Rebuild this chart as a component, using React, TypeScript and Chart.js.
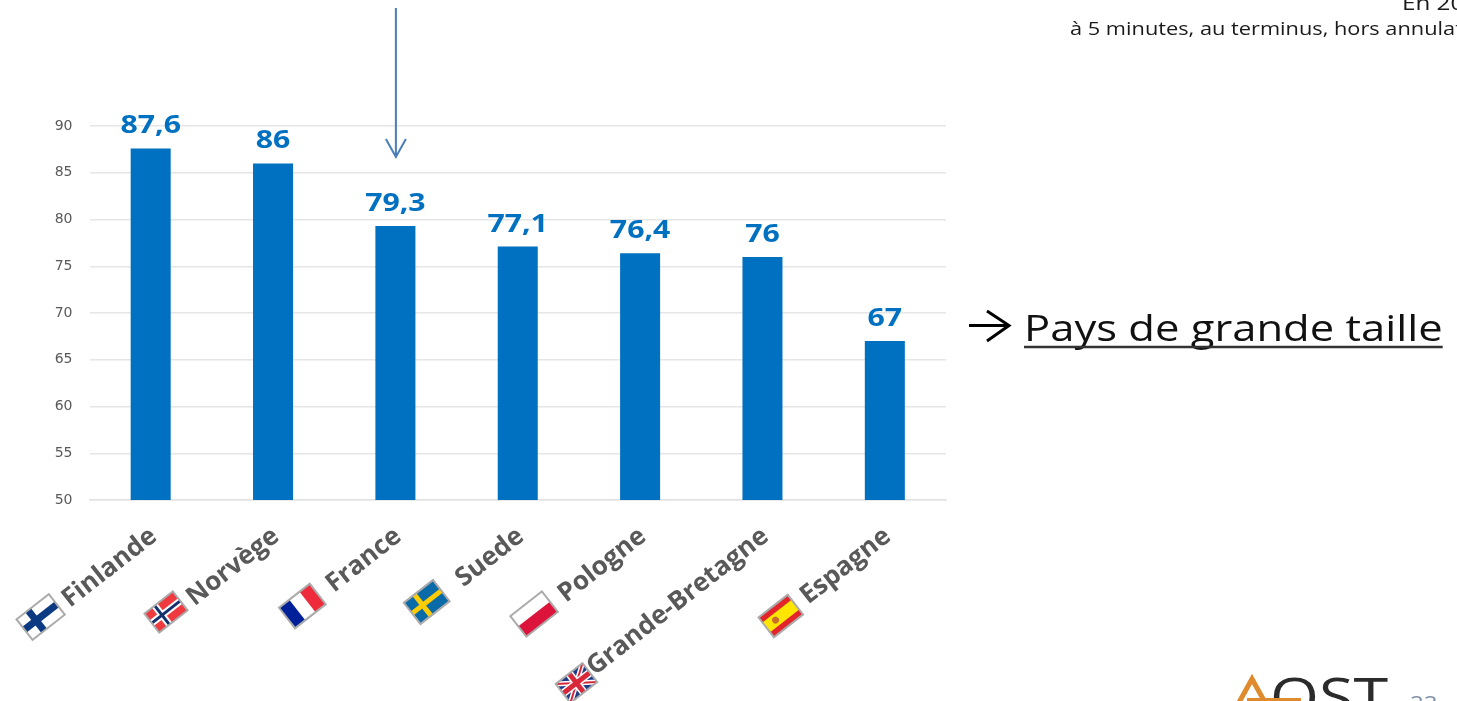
import React, { useEffect, useRef } from "react";
import { Chart, registerables } from "chart.js";

Chart.register(...registerables);

const countries = ["Finlande", "Norvège", "France", "Suede", "Pologne", "Grande-Bretagne", "Espagne"];
const values = [87.6, 86, 79.3, 77.1, 76.4, 76, 67];
const valueLabels = ["87,6", "86", "79,3", "77,1", "76,4", "76", "67"];
const flagCodes = ["fi", "no", "fr", "se", "pl", "gb", "es"];
const sideNote = "Pays de grande taille";
const headerShort = "En 2013";
const headerLong = "à 5 minutes, au terminus, hors annulations";
const logoText = "QST";
const pageNumber = "22";

const FONT = '"Open Sans", "Noto Sans", sans-serif';
const BLUE = "#0070C0";
const GREY = "#595959";
const STRETCH = 1.21;

// decoration geometry, relative to the category centre / axis line
const flagGeom: Record<string, { dx: number; dy: number; w: number; h: number }> = {
  fi: { dx: -110, dy: 117, w: 41, h: 26 },
  no: { dx: -107, dy: 112, w: 36, h: 24 },
  fr: { dx: -93, dy: 106, w: 39, h: 26 },
  se: { dx: -91, dy: 102, w: 37, h: 27 },
  pl: { dx: -106, dy: 114, w: 40, h: 26 },
  gb: { dx: -186, dy: 183, w: 34, h: 24 },
  es: { dx: -104, dy: 116, w: 37, h: 25 },
};

function stretchedText(
  ctx: CanvasRenderingContext2D,
  text: string,
  x: number,
  y: number,
  align: CanvasTextAlign = "left",
) {
  ctx.save();
  ctx.translate(x, y);
  ctx.scale(STRETCH, 1);
  ctx.textAlign = align;
  ctx.textBaseline = "alphabetic";
  ctx.fillText(text, 0, 0);
  ctx.restore();
}

function paintFlag(ctx: CanvasRenderingContext2D, code: string, w: number, h: number) {
  const l = -w / 2, t = -h / 2;
  const rect = (c: string, x: number, y: number, rw: number, rh: number) => {
    ctx.fillStyle = c;
    ctx.fillRect(x, y, rw, rh);
  };
  const cross = (c: string, thick: number) => {
    rect(c, l + w * 0.36 - thick / 2, t, thick, h);
    rect(c, l, -thick / 2, w, thick);
  };
  if (code === "fi") {
    rect("#ffffff", l, t, w, h);
    cross("#0B3A82", 7);
  } else if (code === "no") {
    rect("#EF3B3F", l, t, w, h);
    cross("#ffffff", 7);
    cross("#13306F", 3);
  } else if (code === "fr") {
    rect("#ffffff", l, t, w, h);
    rect("#00209A", l, t, w / 3, h);
    rect("#EE2B3B", l + (2 * w) / 3, t, w / 3, h);
  } else if (code === "se") {
    rect("#0B6BA8", l, t, w, h);
    cross("#FFCC00", 5);
  } else if (code === "pl") {
    rect("#ffffff", l, t, w, h / 2);
    rect("#DC143C", l, 0, w, h / 2);
  } else if (code === "es") {
    rect("#E3242B", l, t, w, h);
    rect("#FFE600", l, t + h / 4, w, h / 2);
    ctx.fillStyle = "#C8702A";
    ctx.beginPath();
    ctx.arc(l + w * 0.32, 0, 3.5, 0, Math.PI * 2);
    ctx.fill();
  } else if (code === "gb") {
    rect("#1F3C88", l, t, w, h);
    ctx.strokeStyle = "#ffffff";
    ctx.lineWidth = 5;
    ctx.beginPath();
    ctx.moveTo(l, t); ctx.lineTo(-l, -t);
    ctx.moveTo(l, -t); ctx.lineTo(-l, t);
    ctx.stroke();
    ctx.strokeStyle = "#D8283A";
    ctx.lineWidth = 2;
    ctx.stroke();
    rect("#ffffff", l, -4, w, 8);
    rect("#ffffff", -4, t, 8, h);
    rect("#D8283A", l, -2.5, w, 5);
    rect("#D8283A", -2.5, t, 5, h);
  }
  ctx.strokeStyle = "#ABABAB";
  ctx.lineWidth = 2;
  ctx.strokeRect(l, t, w, h);
}

const decorations = {
  id: "decorations",
  afterDraw(chart: any) {
    const ctx: CanvasRenderingContext2D = chart.ctx;
    const xs = chart.scales.x;
    const axisY = chart.scales.y.getPixelForValue(50);
    const meta = chart.getDatasetMeta(0);

    ctx.save();
    // value labels
    ctx.fillStyle = BLUE;
    ctx.font = `700 25px ${FONT}`;
    meta.data.forEach((bar: any, i: number) => {
      stretchedText(ctx, valueLabels[i], bar.x, bar.y - 15, "center");
    });

    // flags
    flagCodes.forEach((code, i) => {
      const g = flagGeom[code];
      ctx.save();
      ctx.translate(xs.getPixelForValue(i) + g.dx, axisY + g.dy);
      ctx.rotate((-38 * Math.PI) / 180);
      paintFlag(ctx, code, g.w, g.h);
      ctx.restore();
    });

    // vertical arrow to France
    const fx = xs.getPixelForValue(2) + 0.5;
    ctx.strokeStyle = "#4A7EBB";
    ctx.lineWidth = 2;
    ctx.beginPath();
    ctx.moveTo(fx, 8);
    ctx.lineTo(fx, 157);
    ctx.moveTo(fx - 10, 139);
    ctx.lineTo(fx, 157);
    ctx.lineTo(fx + 10, 139);
    ctx.stroke();

    // side note
    ctx.strokeStyle = "#000";
    ctx.lineWidth = 3;
    ctx.beginPath();
    ctx.moveTo(969, 325.5);
    ctx.lineTo(1009, 325.5);
    ctx.moveTo(987, 311);
    ctx.lineTo(1009, 325.5);
    ctx.lineTo(987, 341);
    ctx.stroke();
    ctx.fillStyle = "#111";
    ctx.font = `500 36px ${FONT}`;
    stretchedText(ctx, sideNote, 1024, 341);
    const w = ctx.measureText(sideNote).width * STRETCH;
    ctx.strokeStyle = "#333";
    ctx.lineWidth = 2.6;
    ctx.beginPath();
    ctx.moveTo(1024, 347);
    ctx.lineTo(1024 + w, 347);
    ctx.stroke();

    // clipped header
    ctx.fillStyle = "#1a1a1a";
    ctx.font = `500 20px ${FONT}`;
    stretchedText(ctx, headerShort, 1402, 10);
    ctx.font = `500 18px ${FONT}`;
    stretchedText(ctx, headerLong, 1070, 35);

    // logo and page number
    ctx.strokeStyle = "#E08A2E";
    ctx.lineWidth = 5;
    ctx.beginPath();
    ctx.moveTo(1237, 706);
    ctx.lineTo(1252, 679);
    ctx.lineTo(1267, 706);
    ctx.stroke();
    ctx.fillStyle = "#2b2b2b";
    ctx.font = `500 52px ${FONT}`;
    stretchedText(ctx, logoText, 1270, 715);
    ctx.fillStyle = "#E08A2E";
    ctx.fillRect(1247, 698, 54, 3);
    ctx.fillStyle = "#7F8FA6";
    ctx.font = `400 20px ${FONT}`;
    stretchedText(ctx, pageNumber, 1410, 710);
    ctx.restore();
  },
};

export default function App() {
  const ref = useRef<HTMLCanvasElement>(null);
  useEffect(() => {
    document.body.style.margin = "0";
    const chart = new Chart(ref.current!, {
      type: "bar",
      data: {
        labels: countries,
        datasets: [{ data: values, backgroundColor: BLUE, barPercentage: 0.327, categoryPercentage: 1 }],
      },
      options: {
        animation: false,
        responsive: false,
        devicePixelRatio: 1,
        layout: { padding: { top: 126, right: 511, left: 0, bottom: 0 } },
        plugins: { legend: { display: false }, tooltip: { enabled: false } },
        scales: {
          x: {
            afterFit: (s: any) => { s.height = 201; },
            grid: { display: false },
            border: { color: "#E2E2E2", width: 1.5 },
            ticks: {
              color: GREY,
              font: { family: FONT, size: 26, weight: 700 },
              minRotation: 38,
              maxRotation: 38,
              autoSkip: false,
              padding: 13,
              labelOffset: 3,
            },
          },
          y: {
            min: 50,
            max: 90,
            afterFit: (s: any) => { s.width = 89.5; },
            grid: { color: "#E6E6E6", lineWidth: 1.5, drawTicks: false },
            border: { display: false },
            ticks: {
              stepSize: 5,
              color: GREY,
              padding: 17,
              font: { family: '"DejaVu Sans", sans-serif', size: 14 },
            },
          },
        },
      },
      plugins: [decorations],
    } as any);
    return () => chart.destroy();
  }, []);
  return <canvas ref={ref} width={1457} height={701} style={{ display: "block" }} />;
}
